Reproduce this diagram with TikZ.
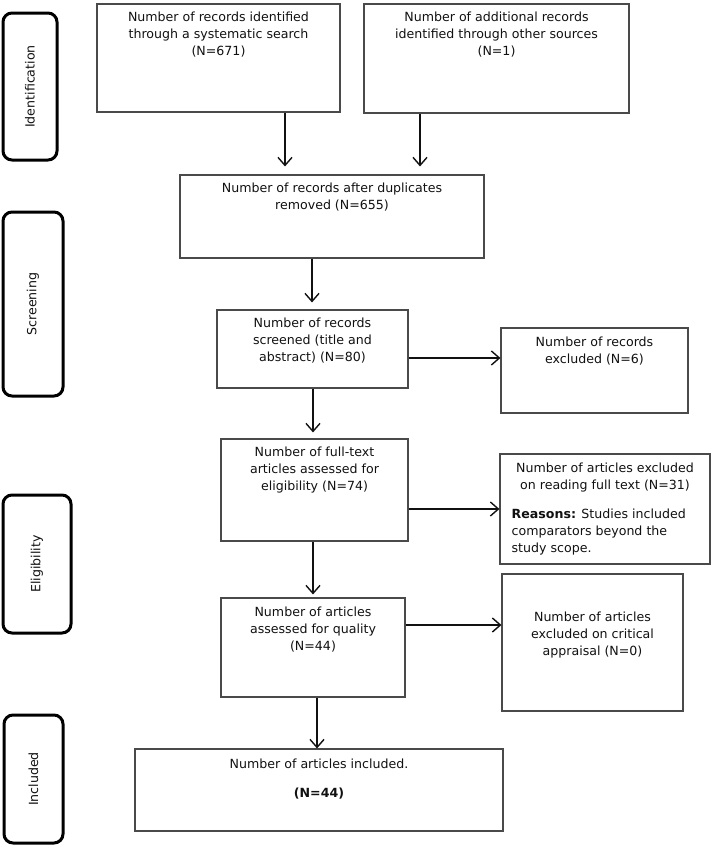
\documentclass[tikz,border=0pt]{standalone}
\usepackage{fontspec}
\setmainfont{DejaVu Sans}
\usetikzlibrary{fit,arrows.meta,calc}
\definecolor{boxgray}{HTML}{4A4A4A}
\definecolor{txtc}{HTML}{111111}
\begin{document}
\begin{tikzpicture}[x=1pt,y=-1pt,
  box/.style={draw=boxgray, line width=1.1pt, inner sep=0pt, rectangle},
  lab/.style={draw=black, line width=3pt, rounded corners=9pt, inner sep=0pt, rectangle},
  txt/.style={font=\fontsize{12.6}{17}\selectfont, text=txtc, align=center, inner sep=0pt},
  arr/.style={draw=txtc, line width=1.4pt, -{Straight Barb[length=8pt,width=14pt]}}]
\fill[white] (0,0) rectangle (712,846);
\useasboundingbox (0,0) rectangle (712,846);

% stage labels
\node[lab, fit={(3,13) (57,160)}] (L1) {};
\node[txt, rotate=90] (L1t) at (L1.center) {Identification};
\node[lab, fit={(3,212) (63,396)}] (L2) {};
\node[txt, rotate=90] (L2t) at (L2.center) {Screening};
\node[lab, fit={(3,495) (71,633)}] (L3) {};
\node[txt, rotate=90] (L3t) at (L3.center) {Eligibility};
\node[lab, fit={(4,715) (63,843)}] (L4) {};
\node[txt, rotate=90] (L4t) at (L4.center) {Included};

% boxes
\node[box, fit={(97,4) (340,112)}] (A) {};
\node[box, fit={(364,4) (629,113)}] (B) {};
\node[box, fit={(180,175) (484,258)}] (C) {};
\node[box, fit={(217,310) (408,388)}] (D) {};
\node[box, fit={(501,328) (688,413)}] (E) {};
\node[box, fit={(221,439) (408,541)}] (F) {};
\node[box, fit={(500,454) (710,564)}] (G) {};
\node[box, fit={(221,598) (405,697)}] (H) {};
\node[box, fit={(502,574) (683,711)}] (I) {};
\node[box, fit={(135,749) (503,831)}] (J) {};

% texts
\node[txt, anchor=north] (At) at ([yshift=-8pt]A.north) {Number of records identified\\through a systematic search\\(N=671)};
\node[txt, anchor=north] (Bt) at ([yshift=-8pt]B.north) {Number of additional records\\identified through other sources\\(N=1)};
\node[txt, anchor=north] (Ct) at ([yshift=-8pt]C.north) {Number of records after duplicates\\removed (N=655)};
\node[txt, anchor=north] (Dt) at ([yshift=-8pt]D.north) {Number of records\\screened (title and\\abstract) (N=80)};
\node[txt, anchor=north] (Et) at ([yshift=-9pt]E.north) {Number of records\\excluded (N=6)};
\node[txt, anchor=north] (Ft) at ([yshift=-8pt]F.north) {Number of full-text\\articles assessed for\\eligibility (N=74)};
\node[txt, anchor=north] (Gt) at ([yshift=-9pt]G.north) {Number of articles excluded\\on reading full text (N=31)};
\node[txt, anchor=north west, align=left] (Gr) at ([xshift=12pt,yshift=-55pt]G.north west) {\textbf{Reasons:} Studies included\\comparators beyond the\\study scope.};
\node[txt, anchor=north] (Ht) at ([yshift=-9pt]H.north) {Number of articles\\assessed for quality\\(N=44)};
\node[txt, anchor=north] (It) at ([yshift=-38pt]I.north) {Number of articles\\excluded on critical\\appraisal (N=0)};
\node[txt, anchor=north] (Jt) at ([yshift=-10pt]J.north) {Number of articles included.\\[12pt]\textbf{(N=44)}};

% column / row coordinates
\coordinate (xa) at (285,0);
\coordinate (xb) at (420,0);
\coordinate (xc) at (312,0);
\coordinate (xd) at (313,0);
\coordinate (xh) at (317,0);
\coordinate (yd) at (0,358);
\coordinate (yf) at (0,509);
\coordinate (yh) at (0,625);

% connectors
\draw[arr, shorten >=8pt] (A.south -| xa) -- (C.north -| xa);
\draw[arr, shorten >=8pt] (B.south -| xb) -- (C.north -| xb);
\draw[arr, shorten >=7pt] (C.south -| xc) -- (D.north -| xc);
\draw[arr, shorten >=6pt] (D.south -| xd) -- (F.north -| xd);
\draw[arr, shorten >=3pt] (F.south -| xd) -- (H.north -| xd);
\draw[arr] (H.south -| xh) -- (J.north -| xh);
\draw[arr] (D.east |- yd) -- (E.west |- yd);
\draw[arr] (F.east |- yf) -- (G.west |- yf);
\draw[arr] (H.east |- yh) -- (I.west |- yh);
\end{tikzpicture}
\end{document}
